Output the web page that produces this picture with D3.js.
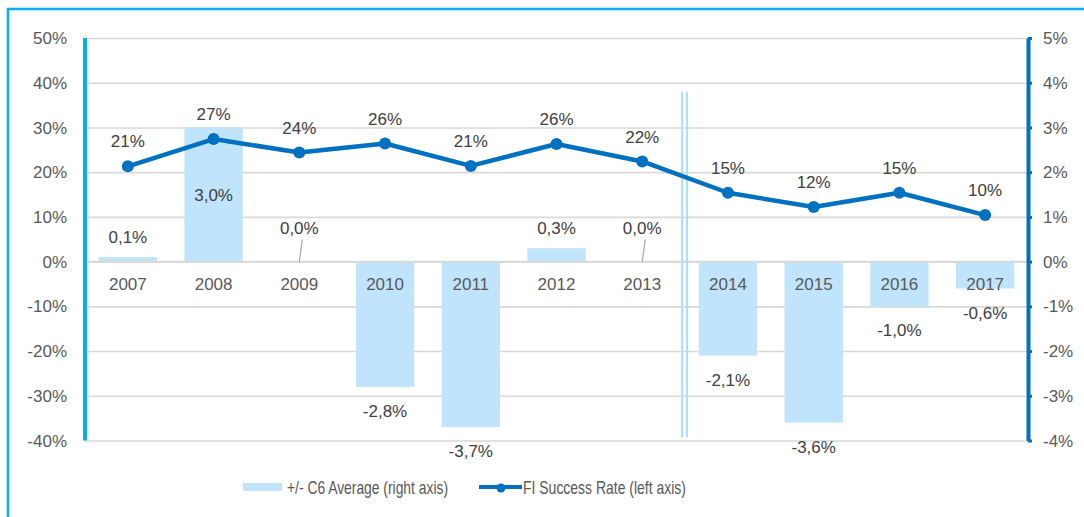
<!DOCTYPE html>
<html><head><meta charset="utf-8">
<script src="https://cdn.jsdelivr.net/npm/d3@7/dist/d3.min.js"></script>
<style>body{margin:0;background:#fff}svg{display:block}text{font-family:"Liberation Sans",Arial,sans-serif}</style>
</head><body><svg id="c" width="1084" height="517"></svg>
<script>
const years = ["2007","2008","2009","2010","2011","2012","2013","2014","2015","2016","2017"];
const c6Average = [0.001, 0.030, 0.000, -0.028, -0.037, 0.003, 0.000, -0.021, -0.036, -0.010, -0.006];
const fiSuccessRate = [0.213, 0.274, 0.244, 0.264, 0.214, 0.263, 0.224, 0.154, 0.122, 0.154, 0.104];
const leftTicks = [-0.4,-0.3,-0.2,-0.1,0,0.1,0.2,0.3,0.4,0.5];
const rightTicks = [-0.04,-0.03,-0.02,-0.01,0,0.01,0.02,0.03,0.04,0.05];
const seriesNames = ["+/- C6 Average (right axis)", "FI Success Rate (left axis)"];

const loc = d3.formatLocale({decimal:",", thousands:".", grouping:[3], currency:["","€"], minus:"-"});
const fmtTick = loc.format(".0%");
const fmtBar = loc.format(".1%");

const svg = d3.select("#c");
const W = 1084, H = 517;
const plot = {left:85, right:1028, top:38, bottom:440.5};

const x = d3.scaleBand().domain(years).range([plot.left, plot.right]).paddingInner(0.32).paddingOuter(0.16);
const yL = d3.scaleLinear().domain([-0.4, 0.5]).range([plot.bottom, plot.top]);
const yR = d3.scaleLinear().domain([-0.04, 0.05]).range([plot.bottom, plot.top]);

const barColor = "#bfe4fb", lineColor = "#0070c0", cyan = "#00b0f0";
const tickCol = "#595959", labCol = "#404040";

// frame
svg.append("path").attr("d", `M8,${H+5}L8,9L${W+5},9`).attr("fill","none").attr("stroke",cyan).attr("stroke-width",2.5);

// gridlines
const grid = svg.append("g").attr("transform",`translate(${plot.left},0)`)
  .call(d3.axisLeft(yL).tickValues(leftTicks).tickSize(-(plot.right-plot.left)).tickFormat(""));
grid.select(".domain").remove();
grid.selectAll("line").attr("stroke","#d9d9d9").attr("stroke-width",1.6);

// left tick labels
svg.append("g").selectAll("text").data(leftTicks).join("text")
  .attr("x", 67).attr("y", d=>yL(d)).attr("dy","0.36em").attr("text-anchor","end")
  .attr("font-size",17).attr("fill",tickCol).text(fmtTick);

// right tick labels
svg.append("g").selectAll("text").data(rightTicks).join("text")
  .attr("x", 1043).attr("y", d=>yR(d)).attr("dy","0.36em").attr("text-anchor","start")
  .attr("font-size",17).attr("fill",tickCol).text(fmtTick);

// bars
svg.append("g").selectAll("rect").data(years).join("rect")
  .attr("x", d=>x(d)).attr("width", x.bandwidth())
  .attr("y", (d,i)=>yR(Math.max(0,c6Average[i])))
  .attr("height", (d,i)=>Math.abs(yR(c6Average[i])-yR(0)))
  .attr("fill", barColor);

// zero line on top of bars
svg.append("line").attr("x1",plot.left).attr("x2",plot.right).attr("y1",yL(0)).attr("y2",yL(0))
  .attr("stroke","#d9d9d9").attr("stroke-width",1.6);

// year labels
svg.append("g").selectAll("text").data(years).join("text")
  .attr("x", d=>x(d)+x.bandwidth()/2).attr("y", yL(0)+22).attr("dy","0.36em")
  .attr("text-anchor","middle").attr("font-size",17).attr("fill",tickCol).text(d=>d);

// break marker between 2013 and 2014
const brk = x("2013") + x.bandwidth() + (x.step()-x.bandwidth())/2;
[-3, 2].forEach(o=>{
  svg.append("line").attr("x1",brk+o).attr("x2",brk+o).attr("y1",yL(0.38)).attr("y2",yL(-0.393))
    .attr("stroke","#a6e0fa").attr("stroke-width",2);
});

// axes lines
svg.append("line").attr("x1",plot.left).attr("x2",plot.left).attr("y1",yL(0.5)).attr("y2",yL(-0.4))
  .attr("stroke",cyan).attr("stroke-width",4);
const rAxis = svg.append("g").attr("transform",`translate(${plot.right},0)`)
  .call(d3.axisRight(yR).tickValues(rightTicks).tickSize(4).tickSizeOuter(0).tickFormat(""));
rAxis.select(".domain").attr("stroke",lineColor).attr("stroke-width",4);
rAxis.selectAll("line").attr("stroke",lineColor).attr("stroke-width",3);

// bar labels
const nudge = {"2008": 87};
const bl = svg.append("g");
years.forEach((yr,i)=>{
  const v = c6Average[i];
  const cx = x(yr)+x.bandwidth()/2;
  let cy;
  if (v < 0) cy = yR(v) + 24;
  else if (v === 0) {
    cy = yR(0) - 34;
    bl.append("line").attr("x1",cx).attr("y1",yR(0)).attr("x2",cx+3).attr("y2",cy+12)
      .attr("stroke","#a6a6a6").attr("stroke-width",1.2);
  } else cy = yR(v) - 20;
  if (nudge[yr]) cy += nudge[yr];
  bl.append("text").attr("x",cx).attr("y",cy).attr("dy","0.36em").attr("text-anchor","middle")
    .attr("font-size",17).attr("fill",labCol).text(fmtBar(v));
});

// line
const cx = d=>x(d)+x.bandwidth()/2;
svg.append("path").datum(years)
  .attr("d", d3.line().x(cx).y((d,i)=>yL(fiSuccessRate[i])))
  .attr("fill","none").attr("stroke",lineColor).attr("stroke-width",4.5).attr("stroke-linejoin","round");
svg.append("g").selectAll("circle").data(years).join("circle")
  .attr("cx",cx).attr("cy",(d,i)=>yL(fiSuccessRate[i])).attr("r",6).attr("fill",lineColor);
svg.append("g").selectAll("text").data(years).join("text")
  .attr("x",cx).attr("y",(d,i)=>yL(fiSuccessRate[i])-25).attr("dy","0.36em")
  .attr("text-anchor","middle").attr("font-size",17).attr("fill",labCol)
  .text((d,i)=>fmtTick(fiSuccessRate[i]));

// legend
const lg = svg.append("g");
lg.append("rect").attr("x",243).attr("y",483).attr("width",39).attr("height",8).attr("fill",barColor);
lg.append("text").attr("x",287).attr("y",487).attr("dy","0.36em").attr("font-size",18.5).attr("fill",tickCol)
  .attr("textLength",161).attr("lengthAdjust","spacingAndGlyphs").text(seriesNames[0]);
lg.append("line").attr("x1",479).attr("x2",522).attr("y1",487).attr("y2",487).attr("stroke",lineColor).attr("stroke-width",4);
lg.append("circle").attr("cx",501).attr("cy",488).attr("r",4.5).attr("fill",lineColor);
lg.append("text").attr("x",523).attr("y",487).attr("dy","0.36em").attr("font-size",18.5).attr("fill",tickCol)
  .attr("textLength",163).attr("lengthAdjust","spacingAndGlyphs").text(seriesNames[1]);
</script></body></html>
